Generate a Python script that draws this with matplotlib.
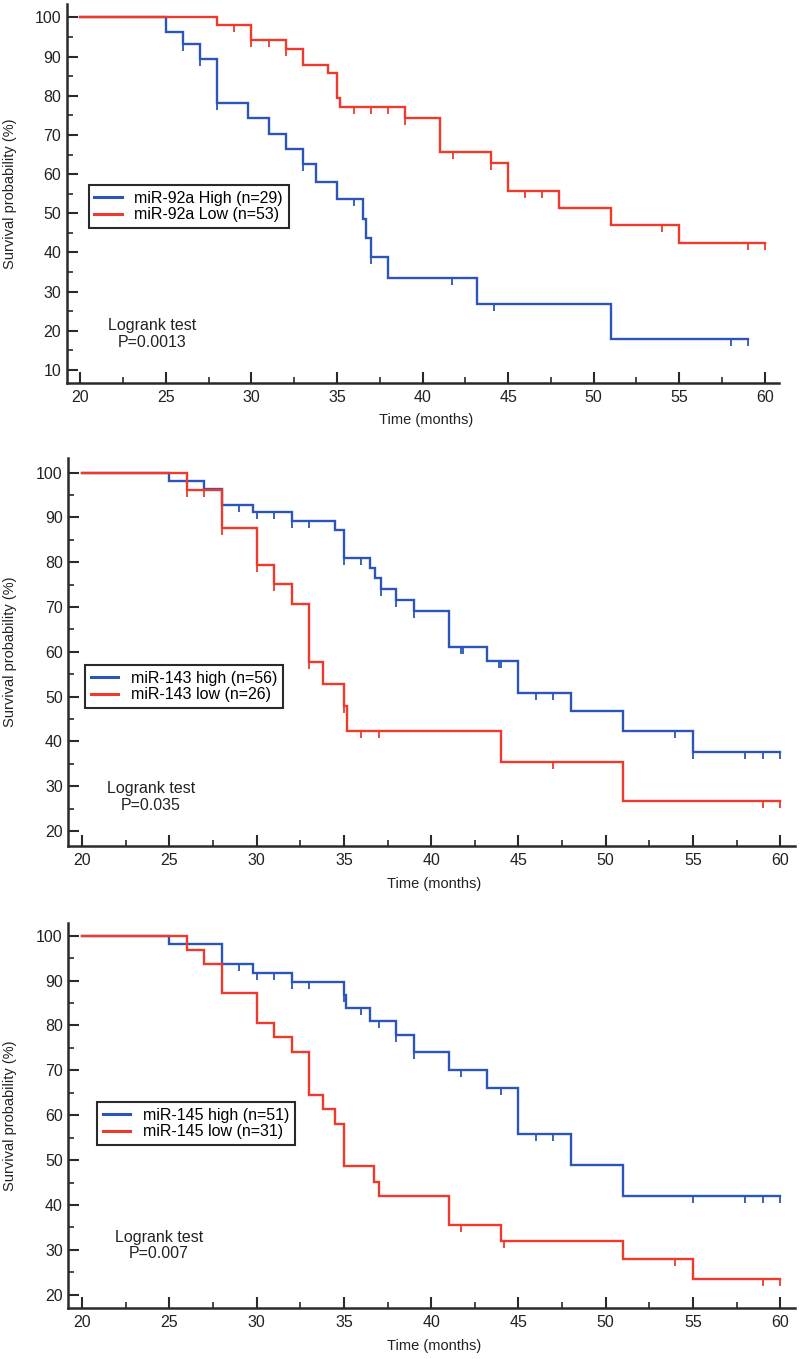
import numpy as np
import matplotlib
matplotlib.use("Agg")
import matplotlib.pyplot as plt
from matplotlib.ticker import MultipleLocator

plt.rcParams['font.family'] = ['Liberation Sans', 'DejaVu Sans']

BLUE = '#2b55b8'
RED = '#ee3a2c'
W, H = 800, 1359

# ---- panel 1: miR-92a
p1_labels = ['miR-92a High (n=29)', 'miR-92a Low (n=53)']
p1_pval = 'P=0.0013'
hi1_t = [25, 26, 27, 28, 29.8, 31, 32, 33, 33.8, 35, 36.5, 36.7, 37, 38, 43.2, 51]
hi1_s = [96.3, 93.1, 89.4, 78.2, 74.2, 70.2, 66.4, 62.6, 58.0, 53.6, 48.6, 43.7, 38.9, 33.4, 26.8, 17.9]
hi1_end = 59
hi1_cens = [26, 27, 28, 33, 36, 37, 41.7, 44.2, 58, 59]
lo1_t = [28, 30, 32, 33, 34.5, 35, 35.2, 39, 41, 44, 45, 48, 51, 55]
lo1_s = [98.0, 94.2, 91.9, 87.8, 85.7, 79.3, 77.0, 74.4, 65.6, 62.8, 55.8, 51.3, 46.9, 42.3]
lo1_end = 60
lo1_cens = [29, 30, 31, 32, 36, 37, 38, 39, 41.8, 44, 46, 47, 54, 59, 60]

# ---- panel 2: miR-143
p2_labels = ['miR-143 high (n=56)', 'miR-143 low (n=26)']
p2_pval = 'P=0.035'
hi2_t = [25, 27, 28, 29.8, 32, 34.5, 35, 36.5, 36.8, 37.1, 38, 39, 41, 43.2, 45, 48, 51, 55]
hi2_s = [98.2, 96.4, 92.8, 91.1, 89.2, 87.1, 80.9, 78.6, 76.4, 74.1, 71.6, 69.0, 61.0, 58.0, 50.9, 46.7, 42.4, 37.6]
hi2_end = 60
hi2_cens = [28, 29, 30, 31, 32, 33, 35, 36, 37.1, 38, 39, 41.7, 41.8, 43.9, 44.0, 46, 47, 54, 55, 58, 59, 60]
lo2_t = [26, 28, 30, 31, 32, 33, 33.8, 35, 35.2, 44, 51]
lo2_s = [96.1, 87.7, 79.4, 75.1, 70.7, 57.7, 52.8, 47.9, 42.3, 35.3, 26.6]
lo2_end = 60
lo2_cens = [26, 27, 28, 30, 31, 33, 35, 36, 37, 47, 59, 60]

# ---- panel 3: miR-145
p3_labels = ['miR-145 high (n=51)', 'miR-145 low (n=31)']
p3_pval = 'P=0.007'
hi3_t = [25, 28, 29.8, 32, 35, 35.1, 36.5, 38, 39, 41, 43.2, 45, 48, 51]
hi3_s = [98.1, 93.8, 91.8, 89.8, 86.8, 84.0, 81.1, 77.9, 74.0, 70.1, 66.0, 55.8, 48.9, 42.0]
hi3_end = 60
hi3_cens = [28, 29, 30, 31, 32, 33, 35, 36, 37, 38, 39, 41.7, 44, 46, 47, 55, 58, 59, 60]
lo3_t = [26, 27, 28, 30, 31, 32, 33, 33.8, 34.5, 35, 36.7, 37, 41, 44, 51, 55]
lo3_s = [96.8, 93.7, 87.2, 80.6, 77.5, 74.2, 64.5, 61.3, 58.1, 48.6, 45.2, 42.0, 35.6, 32.0, 28.0, 23.5]
lo3_end = 60
lo3_cens = [41.7, 44.2, 54, 59, 60]


def km(ax, t, s, end, cens, color):
    x = [20] + t + [end]
    y = [100] + s + [s[-1]]
    line, = ax.step(x, y, where='post', color=color, lw=1.7, solid_joinstyle='miter')
    lev = np.array([100] + s)
    cy = lev[np.searchsorted(t, cens, side='right')]
    # censor marks: short ticks hanging down from the curve
    ax.plot(cens, cy, ls='none', marker=[(0, 0), (0, -1)], ms=10, mew=1.3,
            color=color)
    return line


fig = plt.figure(figsize=(W / 100, H / 100), dpi=100)

panels = [
    # rect px (left, top, right, bottom), ylim, ymin tick, legend anchor, text pos
    dict(rect=(66.7, 4, 779.3, 383), ylim=(6.7, 103.4), ymin=10, leg=(0.031, 0.522),
         txt=(0.120, 0.129), xlab=-0.079,
         hi=(hi1_t, hi1_s, hi1_end, hi1_cens), lo=(lo1_t, lo1_s, lo1_end, lo1_cens),
         labels=p1_labels, pval=p1_pval),
    dict(rect=(68.3, 458.3, 795, 845.7), ylim=(16.7, 103.2), ymin=20, leg=(0.023, 0.466),
         txt=(0.114, 0.126), xlab=-0.080,
         hi=(hi2_t, hi2_s, hi2_end, hi2_cens), lo=(lo2_t, lo2_s, lo2_end, lo2_cens),
         labels=p2_labels, pval=p2_pval),
    dict(rect=(68.3, 922.7, 795, 1308.3), ylim=(17.0, 102.9), ymin=20, leg=(0.040, 0.535),
         txt=(0.125, 0.163), xlab=-0.080,
         hi=(hi3_t, hi3_s, hi3_end, hi3_cens), lo=(lo3_t, lo3_s, lo3_end, lo3_cens),
         labels=p3_labels, pval=p3_pval),
]

for p in panels:
    l, t, r, b = p['rect']
    ax = fig.add_axes([l / W, 1 - b / H, (r - l) / W, (b - t) / H])
    h1 = km(ax, *p['hi'], BLUE)
    h2 = km(ax, *p['lo'], RED)

    ax.set_xlim(19.2, 60.85)
    ax.set_ylim(*p['ylim'])
    ax.set_xticks(np.arange(20, 61, 5))
    ax.set_yticks(np.arange(p['ymin'], 101, 10))
    ax.xaxis.set_minor_locator(MultipleLocator(2.5))
    ax.yaxis.set_minor_locator(MultipleLocator(5))
    ax.set_yticks([v for v in np.arange(p['ymin'], 100, 5) if v % 10], minor=True)

    for side in ['top', 'right']:
        ax.spines[side].set_visible(False)
    for side in ['left', 'bottom']:
        ax.spines[side].set_linewidth(1.8)
        ax.spines[side].set_color('#2a2a2a')
    ax.tick_params(which='major', direction='in', length=8, width=1.5,
                   color='#2a2a2a', labelsize=11.5, labelcolor='#222222')
    ax.tick_params(which='minor', direction='in', length=4.5, width=1.2, color='#2a2a2a')
    ax.tick_params(axis='y', pad=4)
    ax.tick_params(axis='x', pad=5)

    ax.set_xlabel('Time (months)', fontsize=10.5, color='#222222')
    ax.xaxis.set_label_coords(0.504, p['xlab'])
    ax.xaxis.label.set_va('top')
    ax.set_ylabel('Survival probability (%)', fontsize=10.5, color='#222222')
    ax.yaxis.set_label_coords(-0.07, 0.5)

    leg = ax.legend([h1, h2], p['labels'], loc='upper left', bbox_to_anchor=p['leg'],
                    borderaxespad=0, fancybox=False, framealpha=1, fontsize=11.5,
                    handlelength=1.7, handletextpad=0.8, labelspacing=0.1,
                    borderpad=0.35)
    leg.get_frame().set_edgecolor('#2a2a2a')
    leg.get_frame().set_linewidth(1.5)
    for ln in leg.get_lines():
        ln.set_linewidth(2.2)

    ax.text(p['txt'][0], p['txt'][1], 'Logrank test\n' + p['pval'], transform=ax.transAxes,
            ha='center', va='center', fontsize=11.5, linespacing=1.15, color='#222222')

fig.savefig('out.png', dpi=100)
